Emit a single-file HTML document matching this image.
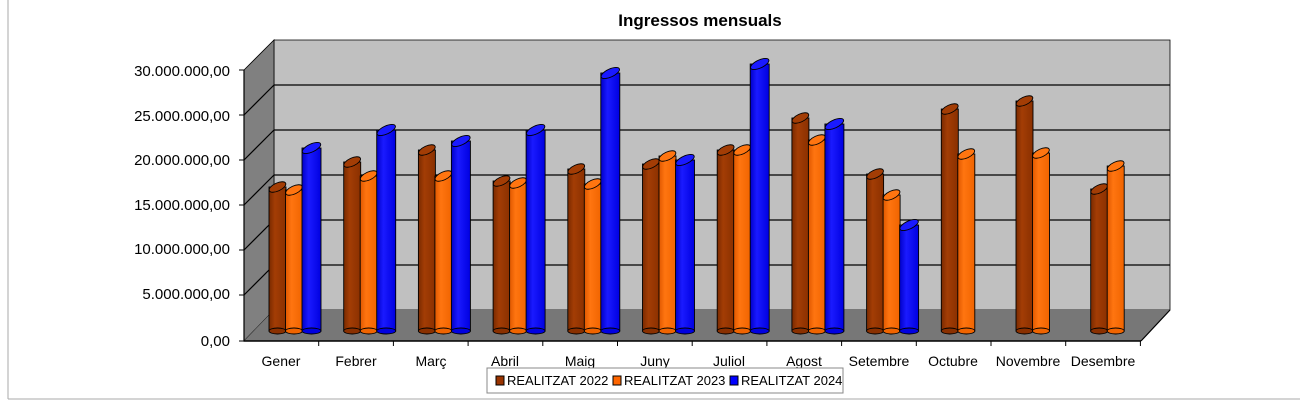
<!DOCTYPE html>
<html><head><meta charset="utf-8"><style>
html,body{margin:0;padding:0;background:#fff}
svg{display:block;font-family:"Liberation Sans",sans-serif}
</style></head><body>
<svg width="1300" height="401" viewBox="0 0 1300 401" xmlns="http://www.w3.org/2000/svg">
<defs>
<linearGradient id="b" x1="0" x2="1"><stop offset="0" stop-color="#7a2a00"/><stop offset="0.35" stop-color="#a33d05"/><stop offset="1" stop-color="#8a3000"/></linearGradient>
<linearGradient id="o" x1="0" x2="1"><stop offset="0" stop-color="#e05800"/><stop offset="0.35" stop-color="#ff7510"/><stop offset="1" stop-color="#f06400"/></linearGradient>
<linearGradient id="u" x1="0" x2="1"><stop offset="0" stop-color="#0000c8"/><stop offset="0.35" stop-color="#1a1aff"/><stop offset="1" stop-color="#0000e0"/></linearGradient>
</defs>
<line x1="8" y1="0" x2="8" y2="399" stroke="#aaa"/>
<line x1="8" y1="399" x2="1300" y2="399" stroke="#aaa"/>
<text x="700" y="26" font-size="17" font-weight="bold" text-anchor="middle">Ingressos mensuals</text>
<polygon points="274,40 1170,40 1170,310 274,310" fill="#c0c0c0" stroke="#000" stroke-width="0.8"/>
<polygon points="244,70 274,40 274,310 244,341" fill="#808080" stroke="#000" stroke-width="0.8"/>
<polygon points="244,341 274,310 1170,310 1141,341" fill="#777"/>
<g stroke="#000" stroke-width="1.2">
<line x1="274" y1="85" x2="1170" y2="85"/><line x1="274" y1="130" x2="1170" y2="130"/><line x1="274" y1="175" x2="1170" y2="175"/><line x1="274" y1="220" x2="1170" y2="220"/><line x1="274" y1="265" x2="1170" y2="265"/>
<line x1="244" y1="115" x2="274" y2="85"/><line x1="244" y1="160" x2="274" y2="130"/><line x1="244" y1="205" x2="274" y2="175"/><line x1="244" y1="250" x2="274" y2="220"/><line x1="244" y1="295" x2="274" y2="265"/>
<line x1="244" y1="341" x2="1141" y2="341" stroke-width="1.5"/><line x1="1141" y1="341" x2="1170" y2="310"/>
<line x1="244" y1="70" x2="244" y2="341"/>
</g>
<g stroke="#000" stroke-width="1">
<line x1="239" y1="70" x2="244" y2="70"/><line x1="239" y1="115" x2="244" y2="115"/><line x1="239" y1="160" x2="244" y2="160"/><line x1="239" y1="205" x2="244" y2="205"/><line x1="239" y1="250" x2="244" y2="250"/><line x1="239" y1="295" x2="244" y2="295"/><line x1="239" y1="341" x2="244" y2="341"/>
<line x1="318.7" y1="341" x2="318.7" y2="346"/><line x1="393.4" y1="341" x2="393.4" y2="346"/><line x1="468.1" y1="341" x2="468.1" y2="346"/><line x1="542.8" y1="341" x2="542.8" y2="346"/><line x1="617.5" y1="341" x2="617.5" y2="346"/><line x1="692.2" y1="341" x2="692.2" y2="346"/><line x1="766.9" y1="341" x2="766.9" y2="346"/><line x1="841.6" y1="341" x2="841.6" y2="346"/><line x1="916.3" y1="341" x2="916.3" y2="346"/><line x1="991" y1="341" x2="991" y2="346"/><line x1="1065.7" y1="341" x2="1065.7" y2="346"/><line x1="1140.4" y1="341" x2="1140.4" y2="346"/>
</g>
<g font-size="15" text-anchor="end">
<text x="230" y="76">30.000.000,00</text><text x="230" y="121">25.000.000,00</text><text x="230" y="165">20.000.000,00</text><text x="230" y="210">15.000.000,00</text><text x="230" y="254">10.000.000,00</text><text x="230" y="299">5.000.000,00</text><text x="230" y="346">0,00</text>
</g>
<g font-size="14" text-anchor="middle">
<text x="281" y="366">Gener</text><text x="356" y="366">Febrer</text><text x="431" y="366">Març</text><text x="505" y="366">Abril</text><text x="580" y="366">Maig</text><text x="655" y="366">Juny</text><text x="729" y="366">Juliol</text><text x="804" y="366">Agost</text><text x="879" y="366">Setembre</text><text x="953" y="366">Octubre</text><text x="1028" y="366">Novembre</text><text x="1103" y="366">Desembre</text>
</g>
<rect x="487" y="368" width="356" height="25" fill="#fff" stroke="#888"/>
<g font-size="13">
<rect x="496" y="376" width="8" height="9" fill="#993300" stroke="#000"/><text x="507" y="385">REALITZAT 2022</text>
<rect x="613" y="376" width="8" height="9" fill="#ff6600" stroke="#000"/><text x="624" y="385">REALITZAT 2023</text>
<rect x="730" y="376" width="8" height="9" fill="#0000ff" stroke="#000"/><text x="741" y="385">REALITZAT 2024</text>
</g>
<g stroke="#000" stroke-width="0.9">
<g transform="translate(269,0)"><rect x="0" y="187" width="17" height="144" fill="url(#b)"/><ellipse cx="8.5" cy="331" rx="8.5" ry="3" fill="#8a3000"/><ellipse cx="8.5" cy="187" rx="9" ry="4" fill="#a33d05" transform="rotate(-25 8.5 187)"/></g>
<g transform="translate(285.5,0)"><rect x="0" y="190" width="17" height="141" fill="url(#o)"/><ellipse cx="8.5" cy="331" rx="8.5" ry="3" fill="#f06400"/><ellipse cx="8.5" cy="190" rx="9" ry="4" fill="#ff7510" transform="rotate(-25 8.5 190)"/></g>
<g transform="translate(302,0)"><rect x="0" y="148" width="19" height="183" fill="url(#u)"/><ellipse cx="9.5" cy="331" rx="9.5" ry="3" fill="#0000e0"/><ellipse cx="9.5" cy="148" rx="10" ry="4" fill="#1a1aff" transform="rotate(-25 9.5 148)"/></g>

<g transform="translate(343.7,0)"><rect x="0" y="162" width="17" height="169" fill="url(#b)"/><ellipse cx="8.5" cy="331" rx="8.5" ry="3" fill="#8a3000"/><ellipse cx="8.5" cy="162" rx="9" ry="4" fill="#a33d05" transform="rotate(-25 8.5 162)"/></g>
<g transform="translate(360.2,0)"><rect x="0" y="176" width="17" height="155" fill="url(#o)"/><ellipse cx="8.5" cy="331" rx="8.5" ry="3" fill="#f06400"/><ellipse cx="8.5" cy="176" rx="9" ry="4" fill="#ff7510" transform="rotate(-25 8.5 176)"/></g>
<g transform="translate(376.7,0)"><rect x="0" y="130" width="19" height="201" fill="url(#u)"/><ellipse cx="9.5" cy="331" rx="9.5" ry="3" fill="#0000e0"/><ellipse cx="9.5" cy="130" rx="10" ry="4" fill="#1a1aff" transform="rotate(-25 9.5 130)"/></g>

<g transform="translate(418.4,0)"><rect x="0" y="150" width="17" height="181" fill="url(#b)"/><ellipse cx="8.5" cy="331" rx="8.5" ry="3" fill="#8a3000"/><ellipse cx="8.5" cy="150" rx="9" ry="4" fill="#a33d05" transform="rotate(-25 8.5 150)"/></g>
<g transform="translate(434.9,0)"><rect x="0" y="176" width="17" height="155" fill="url(#o)"/><ellipse cx="8.5" cy="331" rx="8.5" ry="3" fill="#f06400"/><ellipse cx="8.5" cy="176" rx="9" ry="4" fill="#ff7510" transform="rotate(-25 8.5 176)"/></g>
<g transform="translate(451.4,0)"><rect x="0" y="141" width="19" height="190" fill="url(#u)"/><ellipse cx="9.5" cy="331" rx="9.5" ry="3" fill="#0000e0"/><ellipse cx="9.5" cy="141" rx="10" ry="4" fill="#1a1aff" transform="rotate(-25 9.5 141)"/></g>

<g transform="translate(493.1,0)"><rect x="0" y="181" width="17" height="150" fill="url(#b)"/><ellipse cx="8.5" cy="331" rx="8.5" ry="3" fill="#8a3000"/><ellipse cx="8.5" cy="181" rx="9" ry="4" fill="#a33d05" transform="rotate(-25 8.5 181)"/></g>
<g transform="translate(509.6,0)"><rect x="0" y="183" width="17" height="148" fill="url(#o)"/><ellipse cx="8.5" cy="331" rx="8.5" ry="3" fill="#f06400"/><ellipse cx="8.5" cy="183" rx="9" ry="4" fill="#ff7510" transform="rotate(-25 8.5 183)"/></g>
<g transform="translate(526.1,0)"><rect x="0" y="130" width="19" height="201" fill="url(#u)"/><ellipse cx="9.5" cy="331" rx="9.5" ry="3" fill="#0000e0"/><ellipse cx="9.5" cy="130" rx="10" ry="4" fill="#1a1aff" transform="rotate(-25 9.5 130)"/></g>

<g transform="translate(567.8,0)"><rect x="0" y="169" width="17" height="162" fill="url(#b)"/><ellipse cx="8.5" cy="331" rx="8.5" ry="3" fill="#8a3000"/><ellipse cx="8.5" cy="169" rx="9" ry="4" fill="#a33d05" transform="rotate(-25 8.5 169)"/></g>
<g transform="translate(584.3,0)"><rect x="0" y="184" width="17" height="147" fill="url(#o)"/><ellipse cx="8.5" cy="331" rx="8.5" ry="3" fill="#f06400"/><ellipse cx="8.5" cy="184" rx="9" ry="4" fill="#ff7510" transform="rotate(-25 8.5 184)"/></g>
<g transform="translate(600.8,0)"><rect x="0" y="73" width="19" height="258" fill="url(#u)"/><ellipse cx="9.5" cy="331" rx="9.5" ry="3" fill="#0000e0"/><ellipse cx="9.5" cy="73" rx="10" ry="4" fill="#1a1aff" transform="rotate(-25 9.5 73)"/></g>

<g transform="translate(642.5,0)"><rect x="0" y="164" width="17" height="167" fill="url(#b)"/><ellipse cx="8.5" cy="331" rx="8.5" ry="3" fill="#8a3000"/><ellipse cx="8.5" cy="164" rx="9" ry="4" fill="#a33d05" transform="rotate(-25 8.5 164)"/></g>
<g transform="translate(659,0)"><rect x="0" y="156" width="17" height="175" fill="url(#o)"/><ellipse cx="8.5" cy="331" rx="8.5" ry="3" fill="#f06400"/><ellipse cx="8.5" cy="156" rx="9" ry="4" fill="#ff7510" transform="rotate(-25 8.5 156)"/></g>
<g transform="translate(675.5,0)"><rect x="0" y="160" width="19" height="171" fill="url(#u)"/><ellipse cx="9.5" cy="331" rx="9.5" ry="3" fill="#0000e0"/><ellipse cx="9.5" cy="160" rx="10" ry="4" fill="#1a1aff" transform="rotate(-25 9.5 160)"/></g>

<g transform="translate(717.2,0)"><rect x="0" y="150" width="17" height="181" fill="url(#b)"/><ellipse cx="8.5" cy="331" rx="8.5" ry="3" fill="#8a3000"/><ellipse cx="8.5" cy="150" rx="9" ry="4" fill="#a33d05" transform="rotate(-25 8.5 150)"/></g>
<g transform="translate(733.7,0)"><rect x="0" y="150" width="17" height="181" fill="url(#o)"/><ellipse cx="8.5" cy="331" rx="8.5" ry="3" fill="#f06400"/><ellipse cx="8.5" cy="150" rx="9" ry="4" fill="#ff7510" transform="rotate(-25 8.5 150)"/></g>
<g transform="translate(750.2,0)"><rect x="0" y="64" width="19" height="267" fill="url(#u)"/><ellipse cx="9.5" cy="331" rx="9.5" ry="3" fill="#0000e0"/><ellipse cx="9.5" cy="64" rx="10" ry="4" fill="#1a1aff" transform="rotate(-25 9.5 64)"/></g>

<g transform="translate(791.9,0)"><rect x="0" y="118" width="17" height="213" fill="url(#b)"/><ellipse cx="8.5" cy="331" rx="8.5" ry="3" fill="#8a3000"/><ellipse cx="8.5" cy="118" rx="9" ry="4" fill="#a33d05" transform="rotate(-25 8.5 118)"/></g>
<g transform="translate(808.4,0)"><rect x="0" y="140" width="17" height="191" fill="url(#o)"/><ellipse cx="8.5" cy="331" rx="8.5" ry="3" fill="#f06400"/><ellipse cx="8.5" cy="140" rx="9" ry="4" fill="#ff7510" transform="rotate(-25 8.5 140)"/></g>
<g transform="translate(824.9,0)"><rect x="0" y="124" width="19" height="207" fill="url(#u)"/><ellipse cx="9.5" cy="331" rx="9.5" ry="3" fill="#0000e0"/><ellipse cx="9.5" cy="124" rx="10" ry="4" fill="#1a1aff" transform="rotate(-25 9.5 124)"/></g>

<g transform="translate(866.6,0)"><rect x="0" y="174" width="17" height="157" fill="url(#b)"/><ellipse cx="8.5" cy="331" rx="8.5" ry="3" fill="#8a3000"/><ellipse cx="8.5" cy="174" rx="9" ry="4" fill="#a33d05" transform="rotate(-25 8.5 174)"/></g>
<g transform="translate(883.1,0)"><rect x="0" y="195" width="17" height="136" fill="url(#o)"/><ellipse cx="8.5" cy="331" rx="8.5" ry="3" fill="#f06400"/><ellipse cx="8.5" cy="195" rx="9" ry="4" fill="#ff7510" transform="rotate(-25 8.5 195)"/></g>
<g transform="translate(899.6,0)"><rect x="0" y="225" width="19" height="106" fill="url(#u)"/><ellipse cx="9.5" cy="331" rx="9.5" ry="3" fill="#0000e0"/><ellipse cx="9.5" cy="225" rx="10" ry="4" fill="#1a1aff" transform="rotate(-25 9.5 225)"/></g>

<g transform="translate(941.3,0)"><rect x="0" y="109" width="17" height="222" fill="url(#b)"/><ellipse cx="8.5" cy="331" rx="8.5" ry="3" fill="#8a3000"/><ellipse cx="8.5" cy="109" rx="9" ry="4" fill="#a33d05" transform="rotate(-25 8.5 109)"/></g>
<g transform="translate(957.8,0)"><rect x="0" y="154" width="17" height="177" fill="url(#o)"/><ellipse cx="8.5" cy="331" rx="8.5" ry="3" fill="#f06400"/><ellipse cx="8.5" cy="154" rx="9" ry="4" fill="#ff7510" transform="rotate(-25 8.5 154)"/></g>

<g transform="translate(1016,0)"><rect x="0" y="101" width="17" height="230" fill="url(#b)"/><ellipse cx="8.5" cy="331" rx="8.5" ry="3" fill="#8a3000"/><ellipse cx="8.5" cy="101" rx="9" ry="4" fill="#a33d05" transform="rotate(-25 8.5 101)"/></g>
<g transform="translate(1032.5,0)"><rect x="0" y="153" width="17" height="178" fill="url(#o)"/><ellipse cx="8.5" cy="331" rx="8.5" ry="3" fill="#f06400"/><ellipse cx="8.5" cy="153" rx="9" ry="4" fill="#ff7510" transform="rotate(-25 8.5 153)"/></g>

<g transform="translate(1090.7,0)"><rect x="0" y="189" width="17" height="142" fill="url(#b)"/><ellipse cx="8.5" cy="331" rx="8.5" ry="3" fill="#8a3000"/><ellipse cx="8.5" cy="189" rx="9" ry="4" fill="#a33d05" transform="rotate(-25 8.5 189)"/></g>
<g transform="translate(1107.2,0)"><rect x="0" y="166" width="17" height="165" fill="url(#o)"/><ellipse cx="8.5" cy="331" rx="8.5" ry="3" fill="#f06400"/><ellipse cx="8.5" cy="166" rx="9" ry="4" fill="#ff7510" transform="rotate(-25 8.5 166)"/></g>
</g>
</svg>
</body></html>
